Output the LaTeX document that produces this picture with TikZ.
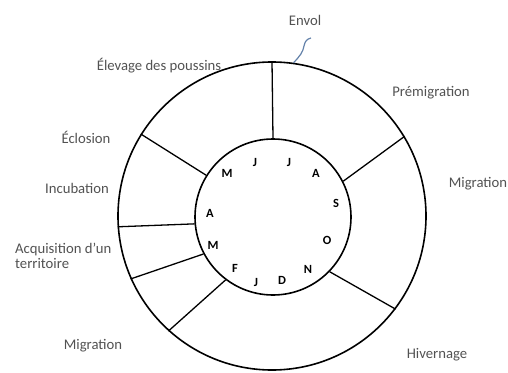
\documentclass[tikz,border=0pt]{standalone}
\usepackage{fontspec}
\setmainfont{Carlito}
\begin{document}
\begin{tikzpicture}[x=1pt,y=-1pt,
  ring/.style={circle,draw=black,line width=1.6pt,inner sep=0pt},
  divider/.style={draw=black,line width=1.3pt},
  lbl/.style={text=black!68,font=\fontsize{14.7}{16}\selectfont,inner sep=0pt},
  month/.style={text=black,font=\fontsize{12.5}{14}\selectfont\bfseries,inner sep=0pt}]
\useasboundingbox (0,0) rectangle (508,372);
\node[ring,minimum size=308pt] (outer) at (272,216) {};
\node[ring,minimum size=156pt] (inner) at (273,217) {};
% dividers
\draw[divider] (inner.90) -- (outer.90);
\draw[divider] (inner.27) -- (outer.31.5);
\draw[divider] (inner.-44.5) -- (outer.-37);
\draw[divider] (inner.233) -- (outer.228.5);
\draw[divider] (inner.208) -- (outer.204.5);
\draw[divider] (inner.185) -- (outer.184);
\draw[divider] (inner.148) -- (outer.148.5);
% envol squiggle
\coordinate (envtip) at (311,38);
\draw[color={rgb,255:red,100;green,130;blue,170},line width=1.2pt]
  (outer.82) .. controls (300,56) and (303,52) .. (304,46)
  .. controls (305,41) and (307,39) .. (envtip);
% labels
\node[lbl] (envol) at (305,20) {Envol};
\node[lbl] (elevage) at (159,66) {Élevage des poussins};
\node[lbl] (premig) at (431,93) {Prémigration};
\node[lbl] (migr1) at (478,184) {Migration};
\node[lbl] (eclosion) at (86,137) {Éclosion};
\node[lbl] (incub) at (77,188) {Incubation};
\node[lbl,align=left,anchor=north west] (acq) at (15,243) {Acquisition d'un\\[-1pt]territoire};
\node[lbl] (migr2) at (93,346) {Migration};
\node[lbl] (hiver) at (437,355) {Hivernage};
% months
\node[month] (mJ1) at (255,162) {J};
\node[month] (mJ2) at (289,162) {J};
\node[month] (mA1) at (316,173) {A};
\node[month] (mS) at (336,203) {S};
\node[month] (mO) at (327,240) {O};
\node[month] (mN) at (308,269) {N};
\node[month] (mD) at (282,280) {D};
\node[month] (mJ3) at (256,282) {J};
\node[month] (mF) at (235,268) {F};
\node[month] (mM2) at (213,245) {M};
\node[month] (mA2) at (210,213) {A};
\node[month] (mM1) at (227,173) {M};
\end{tikzpicture}
\end{document}
